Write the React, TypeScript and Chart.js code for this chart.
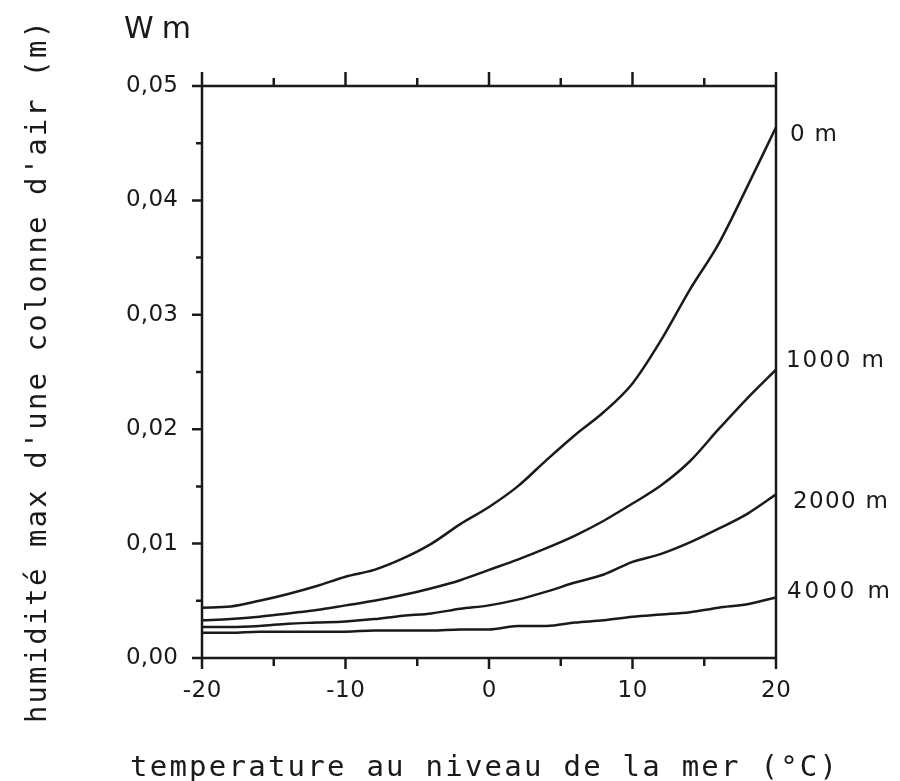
import React, { useEffect, useRef } from 'react';
import { Chart, registerables } from 'chart.js';

Chart.register(...registerables);

// Temperature at sea level (°C)
const temperatures = [-20, -18, -16, -14, -12, -10, -8, -6, -4, -2, 0, 2, 4, 6, 8, 10, 12, 14, 16, 18, 20];

// Maximum humidity of an air column (m) by altitude
const wm0m = [0.0044, 0.0045, 0.0050, 0.0056, 0.0063, 0.0071, 0.0077, 0.0087, 0.0100, 0.0117, 0.0132, 0.0150, 0.0173, 0.0195, 0.0215, 0.0240, 0.0278, 0.0322, 0.0362, 0.0412, 0.0464];
const wm1000m = [0.0033, 0.0034, 0.0036, 0.0039, 0.0042, 0.0046, 0.0050, 0.0055, 0.0061, 0.0068, 0.0077, 0.0086, 0.0096, 0.0107, 0.0120, 0.0135, 0.0151, 0.0172, 0.0200, 0.0227, 0.0252];
const wm2000m = [0.0027, 0.0027, 0.0028, 0.0030, 0.0031, 0.0032, 0.0034, 0.0037, 0.0039, 0.0043, 0.0046, 0.0051, 0.0058, 0.0066, 0.0073, 0.0084, 0.0091, 0.0101, 0.0113, 0.0126, 0.0143];
const wm4000m = [0.0022, 0.0022, 0.0023, 0.0023, 0.0023, 0.0023, 0.0024, 0.0024, 0.0024, 0.0025, 0.0025, 0.0028, 0.0028, 0.0031, 0.0033, 0.0036, 0.0038, 0.0040, 0.0044, 0.0047, 0.0053];

const seriesNames = ['0 m', '1000 m', '2000 m', '4000 m'];
const seriesValues = [wm0m, wm1000m, wm2000m, wm4000m];
// y value (data units) at which each curve label sits, to the right of the plot
const seriesLabelValues = [0.0457, 0.0260, 0.0136, 0.0058];

const xMin = -20;
const xMax = 20;
const xMajorStep = 10;
const xMinorStep = 5;
const yMin = 0;
const yMax = 0.05;
const yMajorStep = 0.01;
const yMinorStep = 0.005;

const topTitle = 'Wm';
const yTitle = "humidité max d'une colonne d'air (m)";
const xTitle = 'temperature au niveau de la mer (°C)';

const FONT = "'DejaVu Sans', sans-serif";
const MONO = "'DejaVu Sans Mono', monospace";
const INK = '#1a1a1a';

function drawSpaced(ctx: CanvasRenderingContext2D, text: string, x: number, y: number, target: number) {
  (ctx as any).letterSpacing = '0px';
  const w = ctx.measureText(text).width;
  const s = (target - w) / Math.max(1, text.length - 1);
  (ctx as any).letterSpacing = s + 'px';
  ctx.textAlign = 'left';
  ctx.fillText(text, x, y);
  (ctx as any).letterSpacing = '0px';
}

function drawCentered(ctx: CanvasRenderingContext2D, text: string, cx: number, y: number, spacing: number) {
  (ctx as any).letterSpacing = spacing + 'px';
  const w = ctx.measureText(text).width - spacing;
  ctx.textAlign = 'left';
  ctx.fillText(text, cx - w / 2, y);
  (ctx as any).letterSpacing = '0px';
}

function drawRight(ctx: CanvasRenderingContext2D, text: string, rx: number, y: number, spacing: number) {
  (ctx as any).letterSpacing = spacing + 'px';
  const w = ctx.measureText(text).width - spacing;
  ctx.textAlign = 'left';
  ctx.fillText(text, rx - w, y);
  (ctx as any).letterSpacing = '0px';
}

const framePlugin = {
  id: 'frame',
  afterDraw(chart: any) {
    const { ctx, chartArea, scales } = chart;
    const { left, right, top, bottom } = chartArea;
    const xs = scales.x;
    const ys = scales.y;
    ctx.save();
    ctx.strokeStyle = INK;
    ctx.fillStyle = INK;
    ctx.lineWidth = 2.5;
    ctx.lineCap = 'butt';

    // box
    ctx.beginPath();
    ctx.moveTo(left - 1, top);
    ctx.lineTo(right + 1, top);
    ctx.moveTo(left - 1, bottom);
    ctx.lineTo(right + 1, bottom);
    ctx.moveTo(left, top);
    ctx.lineTo(left, bottom);
    ctx.moveTo(right, top);
    ctx.lineTo(right, bottom);
    ctx.stroke();

    // x ticks (top up, bottom down)
    ctx.beginPath();
    for (let v = xMin; v <= xMax + 1e-9; v += xMinorStep) {
      const px = xs.getPixelForValue(v);
      const major = Math.abs(v % xMajorStep) < 1e-9;
      ctx.moveTo(px, top);
      ctx.lineTo(px, top - (major ? 14 : 8));
      ctx.moveTo(px, bottom);
      ctx.lineTo(px, bottom + (major ? 11 : 8));
    }
    // y ticks (left, outward)
    for (let i = 0; i <= Math.round((yMax - yMin) / yMinorStep); i++) {
      const v = yMin + i * yMinorStep;
      const py = ys.getPixelForValue(v);
      const major = i % 2 === 0;
      ctx.moveTo(left, py);
      ctx.lineTo(left - (major ? 10 : 6), py);
    }
    ctx.stroke();

    // tick labels from the library's ticks
    ctx.font = `23px ${FONT}`;
    ctx.textBaseline = 'middle';
    xs.ticks.forEach((t: any) => {
      const px = xs.getPixelForValue(t.value);
      drawCentered(ctx, String(t.value), px, bottom + 33, 0.5);
    });
    ys.ticks.forEach((t: any) => {
      const py = ys.getPixelForValue(t.value);
      drawRight(ctx, Number(t.value).toFixed(2).replace('.', ','), left - 24, py, 0.3);
    });

    // curve labels on the right
    ctx.font = `23px ${FONT}`;
    ctx.textBaseline = 'middle';
    const labelDx = [14, 10, 17, 11];
    const labelW = [47, 98, 95, 103];
    seriesNames.forEach((name, i) => {
      const py = ys.getPixelForValue(seriesLabelValues[i]);
      drawSpaced(ctx, name, right + labelDx[i], py, labelW[i]);
    });

    // top-left title
    ctx.font = `30px ${FONT}`;
    ctx.textBaseline = 'alphabetic';
    drawSpaced(ctx, topTitle, 124, 38, 67);

    // x title
    ctx.font = `29px ${MONO}`;
    ctx.textBaseline = 'alphabetic';
    drawSpaced(ctx, xTitle, 130, 776, 707);

    // y title (rotated, reads bottom to top)
    ctx.translate(46, 723);
    ctx.rotate(-Math.PI / 2);
    ctx.textBaseline = 'alphabetic';
    drawSpaced(ctx, yTitle, 0, 0, 702);

    ctx.restore();
  },
};

export default function App() {
  const canvasRef = useRef<HTMLCanvasElement | null>(null);

  useEffect(() => {
    document.body.style.margin = '0';
    const canvas = canvasRef.current;
    if (!canvas) return;

    const datasets = seriesNames.map((name, i) => ({
      label: name,
      data: temperatures.map((t, j) => ({ x: t, y: seriesValues[i][j] })),
      borderColor: INK,
      borderWidth: 2.5,
      pointRadius: 0,
      fill: false,
      cubicInterpolationMode: 'monotone' as const,
    }));

    const chart = new Chart(canvas, {
      type: 'line',
      data: { datasets },
      options: {
        animation: false,
        responsive: true,
        maintainAspectRatio: false,
        layout: { padding: { left: 127, right: 124, top: 86, bottom: 63 } },
        plugins: {
          legend: { display: false },
          tooltip: { enabled: false },
          title: { display: false },
        },
        scales: {
          x: {
            type: 'linear',
            min: xMin,
            max: xMax,
            grid: { display: false, drawTicks: false },
            border: { display: false },
            ticks: { stepSize: xMajorStep, display: false },
            afterFit: (scale: any) => {
              scale.height = 60;
            },
          },
          y: {
            type: 'linear',
            min: yMin,
            max: yMax,
            grid: { display: false, drawTicks: false },
            border: { display: false },
            ticks: { stepSize: yMajorStep, display: false },
            afterFit: (scale: any) => {
              scale.width = 75;
            },
          },
        },
      },
      plugins: [framePlugin],
    });

    return () => {
      chart.destroy();
    };
  }, []);

  return (
    <div style={{ position: 'relative', width: 900, height: 781 }}>
      <canvas ref={canvasRef} />
    </div>
  );
}
